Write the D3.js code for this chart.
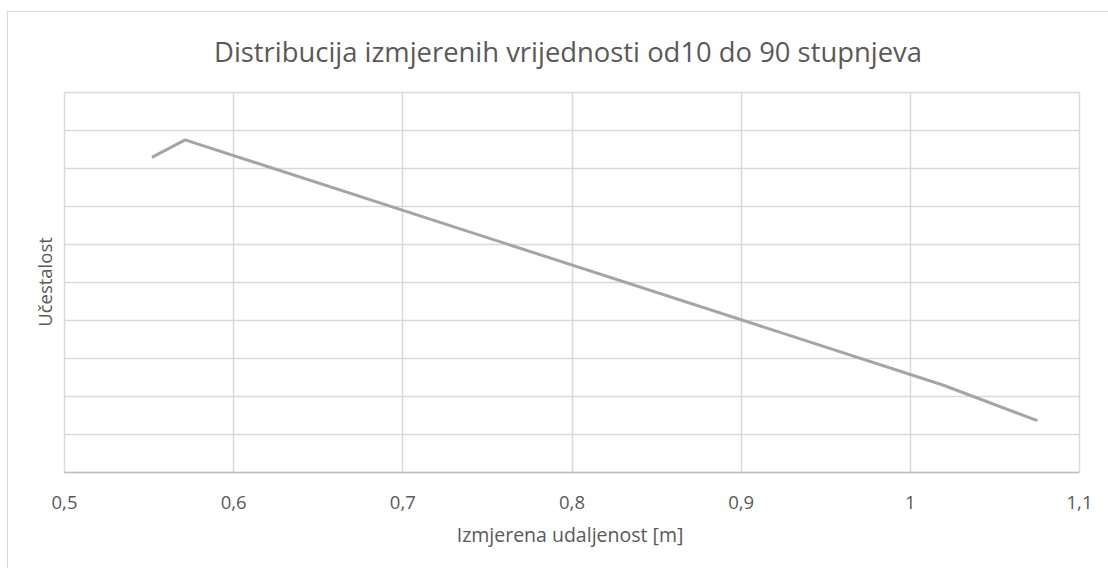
<!DOCTYPE html>
<html>
<head>
<meta charset="utf-8">
<script src="https://cdn.jsdelivr.net/npm/d3@7"></script>
<style>
  body { margin: 0; background: #fff; }
  text { font-family: "Open Sans", sans-serif; fill: #595959; }
</style>
</head>
<body>
<div id="chart"></div>
<script>
// data (y has no labels on the original, so its units are arbitrary)
var distance = [0.552, 0.5716, 1.0195, 1.0754];
var frequency = [82.8, 87.4, 22.9, 13.5];
var xTicks = [0.5, 0.6, 0.7, 0.8, 0.9, 1, 1.1];
var yTicks = [0, 10, 20, 30, 40, 50, 60, 70, 80, 90, 100];

var titleText = "Distribucija izmjerenih vrijednosti od10 do 90 stupnjeva";
var xTitle = "Izmjerena udaljenost [m]";
var yTitle = "Učestalost";

var svgWidth = 1108;
var svgHeight = 568;

var margin = { top: 92, right: 29, bottom: 96, left: 64 };
var width = svgWidth - margin.left - margin.right;
var height = svgHeight - margin.top - margin.bottom;

var svg = d3.select("#chart")
  .append("svg")
  .attr("width", svgWidth)
  .attr("height", svgHeight);

// chart frame (runs off the right and bottom edge in the original)
svg.append("rect")
  .attr("x", 7.5)
  .attr("y", 11.5)
  .attr("width", 1110)
  .attr("height", 570)
  .attr("fill", "#fff")
  .attr("stroke", "#d9d9d9");

var chartGroup = svg.append("g")
  .attr("transform", `translate(${margin.left}, ${margin.top})`);

var xScale = d3.scaleLinear().domain([0.5, 1.1]).range([0, width]);
var yScale = d3.scaleLinear().domain([0, 100]).range([height, 0]);

// horizontal gridlines
chartGroup.append("g")
  .selectAll("line")
  .data(yTicks)
  .enter()
  .append("line")
  .attr("x1", 0)
  .attr("x2", width)
  .attr("y1", d => Math.round(yScale(d)) + 0.5)
  .attr("y2", d => Math.round(yScale(d)) + 0.5)
  .attr("stroke", "#d9d9d9")
  .attr("stroke-width", 1.5);

// vertical gridlines
chartGroup.append("g")
  .selectAll("line")
  .data(xTicks)
  .enter()
  .append("line")
  .attr("x1", d => Math.round(xScale(d)) + 0.5)
  .attr("x2", d => Math.round(xScale(d)) + 0.5)
  .attr("y1", 0)
  .attr("y2", height)
  .attr("stroke", "#d9d9d9")
  .attr("stroke-width", 1.5);

// bottom axis
var fmt = d3.format(".1~f");
var bottomAxis = d3.axisBottom(xScale)
  .tickValues(xTicks)
  .tickSize(0)
  .tickPadding(24)
  .tickFormat(d => fmt(d).replace(".", ","));

var xAxisG = chartGroup.append("g")
  .attr("transform", `translate(0, ${height})`)
  .call(bottomAxis);
xAxisG.select(".domain").attr("stroke", "#bfbfbf").attr("stroke-width", 1.5);
xAxisG.selectAll("text")
  .style("font-size", "18.5px")
  .style("fill", "#595959");

// the line
var line = d3.line()
  .x((d, i) => xScale(distance[i]))
  .y((d, i) => yScale(frequency[i]));

chartGroup.append("path")
  .datum(frequency)
  .attr("d", line)
  .attr("fill", "none")
  .attr("stroke", "#a5a5a5")
  .attr("stroke-width", 3)
  .attr("stroke-linejoin", "round");

// titles
svg.append("text")
  .attr("x", 568)
  .attr("y", 62)
  .attr("text-anchor", "middle")
  .style("font-size", "27.4px")
  .text(titleText);

svg.append("text")
  .attr("x", 570)
  .attr("y", 542)
  .attr("text-anchor", "middle")
  .style("font-size", "19.5px")
  .text(xTitle);

svg.append("text")
  .attr("transform", "translate(52, 282) rotate(-90)")
  .attr("text-anchor", "middle")
  .style("font-size", "18.5px")
  .text(yTitle);
</script>
</body>
</html>
